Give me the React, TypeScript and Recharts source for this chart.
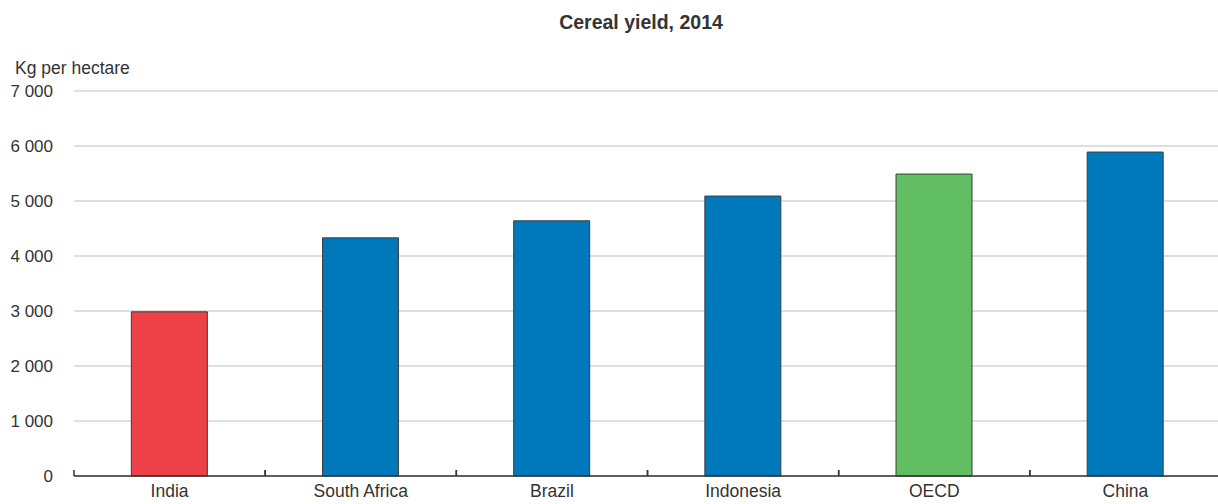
import React from "react";
import { BarChart, Bar, XAxis, YAxis, CartesianGrid, Cell } from "recharts";

const categories = ["India", "South Africa", "Brazil", "Indonesia", "OECD", "China"];
const yieldValues = [2985, 4330, 4640, 5090, 5490, 5890];
const barColors = ["#EE4047", "#0078BC", "#0078BC", "#0078BC", "#62BE62", "#0078BC"];
const yTicks = [0, 1000, 2000, 3000, 4000, 5000, 6000, 7000];
const title = "Cereal yield, 2014";
const unitLabel = "Kg per hectare";

const data = categories.map((c, i) => ({ name: c, value: yieldValues[i] }));

const FONT = "'Liberation Sans', Arial, Helvetica, sans-serif";
const TEXT = "#333333";

const fmt = (n: number) => n.toString().replace(/\B(?=(\d{3})+(?!\d))/g, " ");

const XTick = (props: any) => {
  const { x, y, payload } = props;
  const off = payload.offset || 0;
  return (
    <g>
      <line x1={x - off} x2={x - off} y1={y - 6} y2={y} stroke="#333" strokeWidth={1.5} />
      <line x1={x + off} x2={x + off} y1={y - 6} y2={y} stroke="#333" strokeWidth={1.5} />
      <text x={x} y={y + 21} textAnchor="middle" fill={TEXT} fontSize={17.5} fontFamily={FONT}>
        {payload.value}
      </text>
    </g>
  );
};

const YTick = (props: any) => {
  const { x, y, payload } = props;
  return (
    <text x={x} y={y + 6} textAnchor="end" fill={TEXT} fontSize={17} fontFamily={FONT}>
      {fmt(payload.value)}
    </text>
  );
};

export default function App() {
  return (
    <div style={{ position: "absolute", left: 0, top: 0, width: 1218, height: 504, overflow: "hidden", background: "#fff", fontFamily: FONT }}>
      <div style={{ position: "absolute", left: 0, width: 1282, top: 10, textAlign: "center", fontWeight: "bold", fontSize: 19.5, color: TEXT, lineHeight: "24px" }}>
        {title}
      </div>
      <div style={{ position: "absolute", left: 15, top: 57, fontSize: 17.5, color: TEXT, lineHeight: "22px" }}>
        {unitLabel}
      </div>
      <BarChart
        width={1222}
        height={504}
        data={data}
        margin={{ top: 91, right: 1, bottom: 0, left: 0 }}
        barCategoryGap="30%"
      >
        <CartesianGrid vertical={false} stroke="#d4d4d4" strokeWidth={1.5} />
        <XAxis
          dataKey="name"
          height={28}
          tickLine={false}
          tickSize={0}
          tickMargin={0}
          axisLine={{ stroke: "#333", strokeWidth: 1.5 }}
          tick={<XTick />}
          interval={0}
        />
        <YAxis
          domain={[0, 7000]}
          ticks={yTicks}
          width={74}
          axisLine={false}
          tickLine={false}
          tickSize={0}
          tickMargin={21}
          tick={<YTick />}
          interval={0}
        />
        <Bar dataKey="value" isAnimationActive={false} stroke="#3c3c3c" strokeWidth={1}>
          {data.map((d, i) => (
            <Cell key={d.name} fill={barColors[i]} />
          ))}
        </Bar>
      </BarChart>
    </div>
  );
}
